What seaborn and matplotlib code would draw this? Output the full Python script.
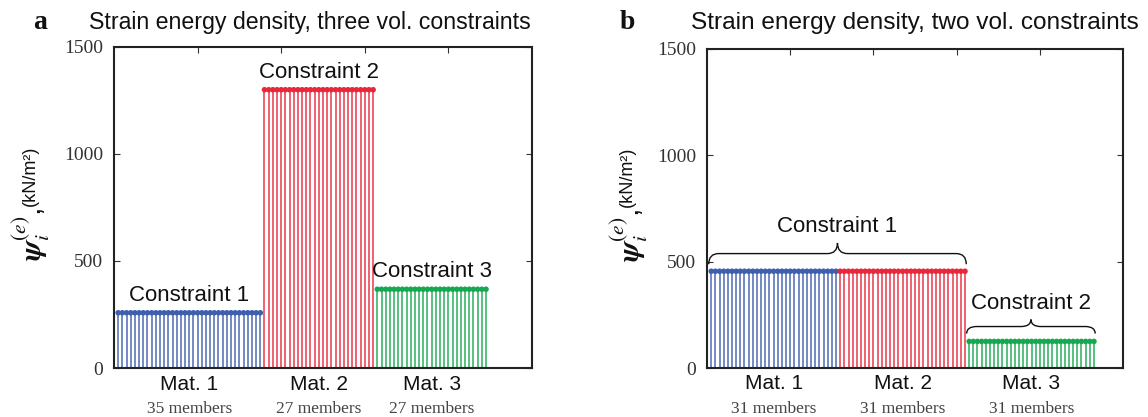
import numpy as np
import pandas as pd
import matplotlib
matplotlib.use("Agg")
import matplotlib.pyplot as plt
from matplotlib.path import Path
from matplotlib.patches import PathPatch
import seaborn as sns

# ---- data ----
mat_names = ["Mat. 1", "Mat. 2", "Mat. 3"]
colors = ["#3d5fad", "#e8283a", "#16a851"]

a_counts = [35, 27, 27]
a_values = [258, 1300, 368]
a_labels = ["Constraint 1", "Constraint 2", "Constraint 3"]

b_counts = [31, 31, 31]
b_values = [455, 455, 125]
b_labels = ["Constraint 1", "Constraint 2"]
b_groups = [[0, 1], [2]]  # materials covered by each constraint brace

yticks = [0, 500, 1000, 1500]
titles = ["Strain energy density, three vol. constraints",
          "Strain energy density, two vol. constraints"]
panel_letters = ["a", "b"]

sns.set_theme(style="white")
plt.rcParams['font.family'] = ['Liberation Sans', 'DejaVu Sans']
plt.rcParams['mathtext.fontset'] = 'custom'
plt.rcParams['mathtext.rm'] = 'STIXGeneral'
plt.rcParams['mathtext.it'] = 'STIXGeneral:italic'
plt.rcParams['mathtext.bf'] = 'STIXGeneral:italic:bold'
plt.rcParams['mathtext.sf'] = 'Liberation Sans'

fig = plt.figure(figsize=(11.48, 4.17), dpi=100)
ax_a = fig.add_axes([0.0993, 0.1175, 0.3641, 0.770])
ax_b = fig.add_axes([0.6159, 0.1175, 0.3624, 0.765])


def make_df(counts, values):
    rows = []
    idx = 1
    for m, (n, v) in enumerate(zip(counts, values)):
        for _ in range(n):
            rows.append({"member": idx, "psi": v, "mat": mat_names[m]})
            idx += 1
    return pd.DataFrame(rows)


def brace(ax, x0, x1, y, h, r, color="#111111"):
    xm = 0.5 * (x0 + x1)
    yh = y + h / 2
    verts = [(x0, y), (x0, yh), (x0 + r, yh),
             (xm - r, yh),
             (xm, yh), (xm, y + h),
             (xm, yh), (xm + r, yh),
             (x1 - r, yh),
             (x1, yh), (x1, y)]
    codes = [Path.MOVETO, Path.CURVE3, Path.CURVE3,
             Path.LINETO,
             Path.CURVE3, Path.CURVE3,
             Path.CURVE3, Path.CURVE3,
             Path.LINETO,
             Path.CURVE3, Path.CURVE3]
    ax.add_patch(PathPatch(Path(verts, codes), fill=False, lw=1.0,
                           edgecolor=color, clip_on=False))


def draw_panel(ax, counts, values, title, letter, title_x, title_fs,
               top_frac, letter_x, ylab_x):
    df = make_df(counts, values)
    pal = dict(zip(mat_names, colors))
    ax.vlines(df["member"], 0, df["psi"],
              colors=[pal[m] for m in df["mat"]], lw=1.2, alpha=0.85)
    sns.scatterplot(data=df, x="member", y="psi", hue="mat", palette=pal,
                    s=16, edgecolor="none", legend=False, ax=ax, zorder=3)
    ax.set_xlim(0, 100)
    ax.set_ylim(0, 1500)
    ax.set_xlabel("")
    ax.set_ylabel("")
    ax.set_yticks(yticks)
    ax.set_yticklabels([str(t) for t in yticks], family="Liberation Serif",
                       fontsize=14, color="#333333")
    ax.set_xticks([20, 40, 60, 80])
    ax.set_xticklabels([])
    ax.tick_params(axis="x", which="both", bottom=False, top=True,
                   direction="in", length=4, width=0.8, color="#333333")
    ax.tick_params(axis="y", which="both", left=True, right=True,
                   direction="in", length=4, width=0.8, color="#333333",
                   pad=8)
    for sp in ax.spines.values():
        sp.set_visible(True)
        sp.set_color("#222222")
        sp.set_linewidth(1.5)
    # material labels under groups
    start = 0
    for m, n in enumerate(counts):
        xc = start + (n + 1) / 2
        ax.text(xc, -0.05, mat_names[m], transform=ax.get_xaxis_transform(),
                ha="center", va="center", fontsize=15, color="#111111")
        ax.text(xc, -0.127, f"{n} members", transform=ax.get_xaxis_transform(),
                ha="center", va="center", fontsize=12.5, color="#444444",
                family="Liberation Serif")
        start += n
    ax.text(title_x, top_frac, title, transform=ax.transAxes, ha="center",
            va="baseline", fontsize=title_fs, color="#111111")
    ax.text(letter_x, top_frac, letter, transform=ax.transAxes, ha="left",
            va="baseline", fontsize=20, fontweight="bold",
            family="Liberation Serif", color="#111111")
    ax.text(ylab_x, 0.415, r"$\mathbf{\psi}_{i}^{(e)}$,",
            transform=ax.transAxes, rotation=90, ha="center", va="center",
            fontsize=22, color="#111111")
    ax.text(ylab_x - 0.004, 0.6, "(kN/m²)",
            transform=ax.transAxes, rotation=90, ha="center", va="center",
            fontsize=13, color="#111111")
    return df


draw_panel(ax_a, a_counts, a_values, titles[0], panel_letters[0],
           0.469, 16.7, 1.056, -0.194, -0.197)
draw_panel(ax_b, b_counts, b_values, titles[1], panel_letters[1],
           0.5, 17.6, 1.063, -0.209, -0.187)

# panel a: constraint labels above each group
start = 0
for m, n in enumerate(a_counts):
    xc = start + (n + 1) / 2
    ax_a.annotate(a_labels[m], (xc, a_values[m]), xytext=(0, 5),
                  textcoords="offset points", ha="center", va="bottom",
                  fontsize=16, color="#111111")
    start += n

# panel b: braces spanning groups
b_brace_gap = [33, 37]
b_brace_h = [100, 66]
bounds = np.concatenate([[0], np.cumsum(b_counts)])
for k, (label, grp) in enumerate(zip(b_labels, b_groups)):
    x0 = bounds[grp[0]] + 0.4
    x1 = bounds[grp[-1] + 1] + 0.3
    ytop = max(b_values[g] for g in grp)
    y0 = ytop + b_brace_gap[k]
    h = b_brace_h[k]
    brace(ax_b, x0, x1, y0, h, 2.4)
    ax_b.annotate(label, ((x0 + x1) / 2, y0 + h), xytext=(0, 4),
                  textcoords="offset points", ha="center", va="bottom",
                  fontsize=16, color="#111111")

fig.savefig("out.png", dpi=100)
